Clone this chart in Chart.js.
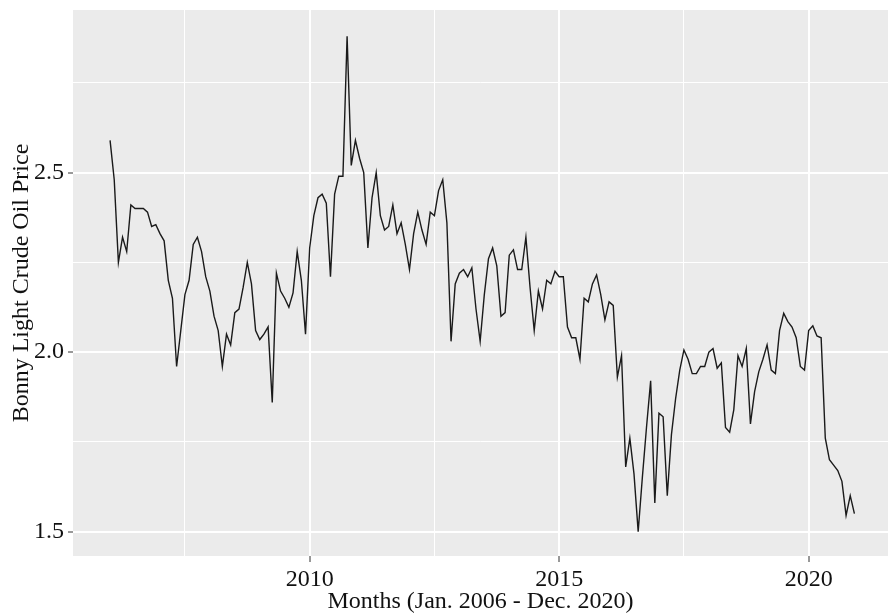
<!DOCTYPE html>
<html>
<head>
<meta charset="utf-8">
<title>Bonny Light Crude Oil Price</title>
<script src="https://cdn.jsdelivr.net/npm/chart.js@4/dist/chart.umd.min.js"></script>
<style>
  html, body { margin: 0; padding: 0; background: #ffffff; }
  canvas { display: block; }
</style>
</head>
<body>
<canvas id="chart" width="889" height="613"></canvas>
<script>
// Monthly Bonny Light crude oil price series, one array per calendar year (Jan..Dec)
const firstYear = 2006;
const p2006 = [2.59, 2.48, 2.25, 2.32, 2.28, 2.41, 2.40, 2.40, 2.40, 2.39, 2.35, 2.355];
const p2007 = [2.33, 2.31, 2.20, 2.15, 1.96, 2.06, 2.16, 2.20, 2.30, 2.32, 2.28, 2.21];
const p2008 = [2.17, 2.10, 2.06, 1.96, 2.05, 2.02, 2.11, 2.12, 2.18, 2.25, 2.19, 2.06];
const p2009 = [2.035, 2.05, 2.07, 1.86, 2.22, 2.17, 2.15, 2.125, 2.165, 2.28, 2.20, 2.05];
const p2010 = [2.29, 2.38, 2.43, 2.44, 2.415, 2.21, 2.44, 2.49, 2.49, 2.88, 2.52, 2.59];
const p2011 = [2.54, 2.50, 2.29, 2.43, 2.50, 2.38, 2.34, 2.35, 2.41, 2.33, 2.36, 2.30];
const p2012 = [2.23, 2.33, 2.39, 2.34, 2.30, 2.39, 2.38, 2.45, 2.48, 2.36, 2.03, 2.19];
const p2013 = [2.22, 2.23, 2.21, 2.235, 2.12, 2.03, 2.16, 2.26, 2.29, 2.24, 2.10, 2.11];
const p2014 = [2.27, 2.285, 2.23, 2.23, 2.32, 2.18, 2.06, 2.17, 2.12, 2.20, 2.19, 2.225];
const p2015 = [2.21, 2.21, 2.07, 2.04, 2.04, 1.98, 2.15, 2.14, 2.19, 2.215, 2.16, 2.09];
const p2016 = [2.14, 2.13, 1.93, 1.99, 1.68, 1.76, 1.66, 1.50, 1.65, 1.79, 1.92, 1.58];
const p2017 = [1.83, 1.82, 1.60, 1.77, 1.87, 1.95, 2.006, 1.98, 1.94, 1.94, 1.96, 1.96];
const p2018 = [2.00, 2.01, 1.955, 1.97, 1.79, 1.777, 1.84, 1.99, 1.96, 2.01, 1.80, 1.89];
const p2019 = [1.945, 1.98, 2.02, 1.95, 1.94, 2.06, 2.108, 2.085, 2.07, 2.04, 1.96, 1.95];
const p2020 = [2.06, 2.073, 2.045, 2.04, 1.76, 1.70, 1.685, 1.67, 1.64, 1.545, 1.60, 1.55];

// Axis breaks: labelled (major) and unlabelled (minor) gridlines
const xMajorTicks = [2010, 2015, 2020];
const xMinorTicks = [2007.5, 2012.5, 2017.5];
const yMajorTicks = [1.5, 2.0, 2.5];
const yMinorTicks = [1.75, 2.25, 2.75];

const xTitle = 'Months (Jan. 2006 - Dec. 2020)';
const yTitle = 'Bonny Light Crude Oil Price';

const yearlySeries = [p2006, p2007, p2008, p2009, p2010, p2011, p2012, p2013,
                      p2014, p2015, p2016, p2017, p2018, p2019, p2020];
const points = [];
yearlySeries.forEach((arr, yi) => {
  arr.forEach((v, mi) => points.push({ x: firstYear + yi + mi / 12, y: v }));
});

const serif = "'Liberation Serif', 'Times New Roman', Times, serif";
const textColor = '#111111';
const fontSize = 24;

function isMajor(list, v) {
  return list.some(t => Math.abs(t - v) < 1e-9);
}
function setTicks(major, minor) {
  return function (scale) {
    scale.ticks = major.concat(minor).sort((a, b) => a - b).map(v => ({ value: v }));
  };
}

// Grey panel behind the plotting region
const panelBackground = {
  id: 'panelBackground',
  beforeDraw(chart) {
    const { ctx, chartArea: a } = chart;
    ctx.save();
    ctx.fillStyle = '#EBEBEB';
    ctx.fillRect(a.left, a.top, a.right - a.left, a.bottom - a.top);
    ctx.restore();
  }
};

new Chart(document.getElementById('chart'), {
  type: 'line',
  data: {
    datasets: [{
      data: points,
      borderColor: '#1a1a1a',
      borderWidth: 1.4,
      pointRadius: 0,
      pointHoverRadius: 0,
      tension: 0,
      fill: false
    }]
  },
  options: {
    responsive: false,
    animation: false,
    devicePixelRatio: 1,
    layout: { padding: { top: 10, right: 1, left: 0, bottom: 0 } },
    plugins: {
      legend: { display: false },
      tooltip: { enabled: false }
    },
    scales: {
      x: {
        type: 'linear',
        position: 'bottom',
        min: 2005.257,
        max: 2021.59,
        afterBuildTicks: setTicks(xMajorTicks, xMinorTicks),
        afterFit(scale) {
          scale.height = 57;
          scale.paddingLeft = 0;
          scale.paddingRight = 0;
        },
        border: { display: false },
        grid: {
          color: '#ffffff',
          lineWidth: ctx => isMajor(xMajorTicks, ctx.tick.value) ? 2 : 1,
          tickColor: ctx => isMajor(xMajorTicks, ctx.tick.value) ? '#333333' : 'rgba(0,0,0,0)',
          tickLength: 6,
          tickWidth: 1
        },
        ticks: {
          autoSkip: false,
          maxRotation: 0,
          minRotation: 0,
          padding: 3,
          color: textColor,
          font: { family: serif, size: fontSize },
          callback: v => isMajor(xMajorTicks, v) ? String(v) : ''
        },
        title: {
          display: true,
          text: xTitle,
          color: textColor,
          font: { family: serif, size: fontSize },
          padding: { top: 0, bottom: -3 }
        }
      },
      y: {
        type: 'linear',
        position: 'left',
        min: 1.432,
        max: 2.953,
        afterBuildTicks: setTicks(yMajorTicks, yMinorTicks),
        afterFit(scale) {
          scale.width = 73;
          scale.paddingTop = 0;
          scale.paddingBottom = 0;
        },
        border: { display: false },
        grid: {
          color: '#ffffff',
          lineWidth: ctx => isMajor(yMajorTicks, ctx.tick.value) ? 2 : 1,
          tickColor: ctx => isMajor(yMajorTicks, ctx.tick.value) ? '#333333' : 'rgba(0,0,0,0)',
          tickLength: 5,
          tickWidth: 1
        },
        ticks: {
          autoSkip: false,
          padding: 4,
          color: textColor,
          font: { family: serif, size: fontSize },
          callback: v => isMajor(yMajorTicks, v) ? v.toFixed(1) : ''
        },
        title: {
          display: true,
          text: yTitle,
          color: textColor,
          font: { family: serif, size: fontSize },
          padding: { top: 7, bottom: 0 }
        }
      }
    }
  },
  plugins: [panelBackground]
});
</script>
</body>
</html>
